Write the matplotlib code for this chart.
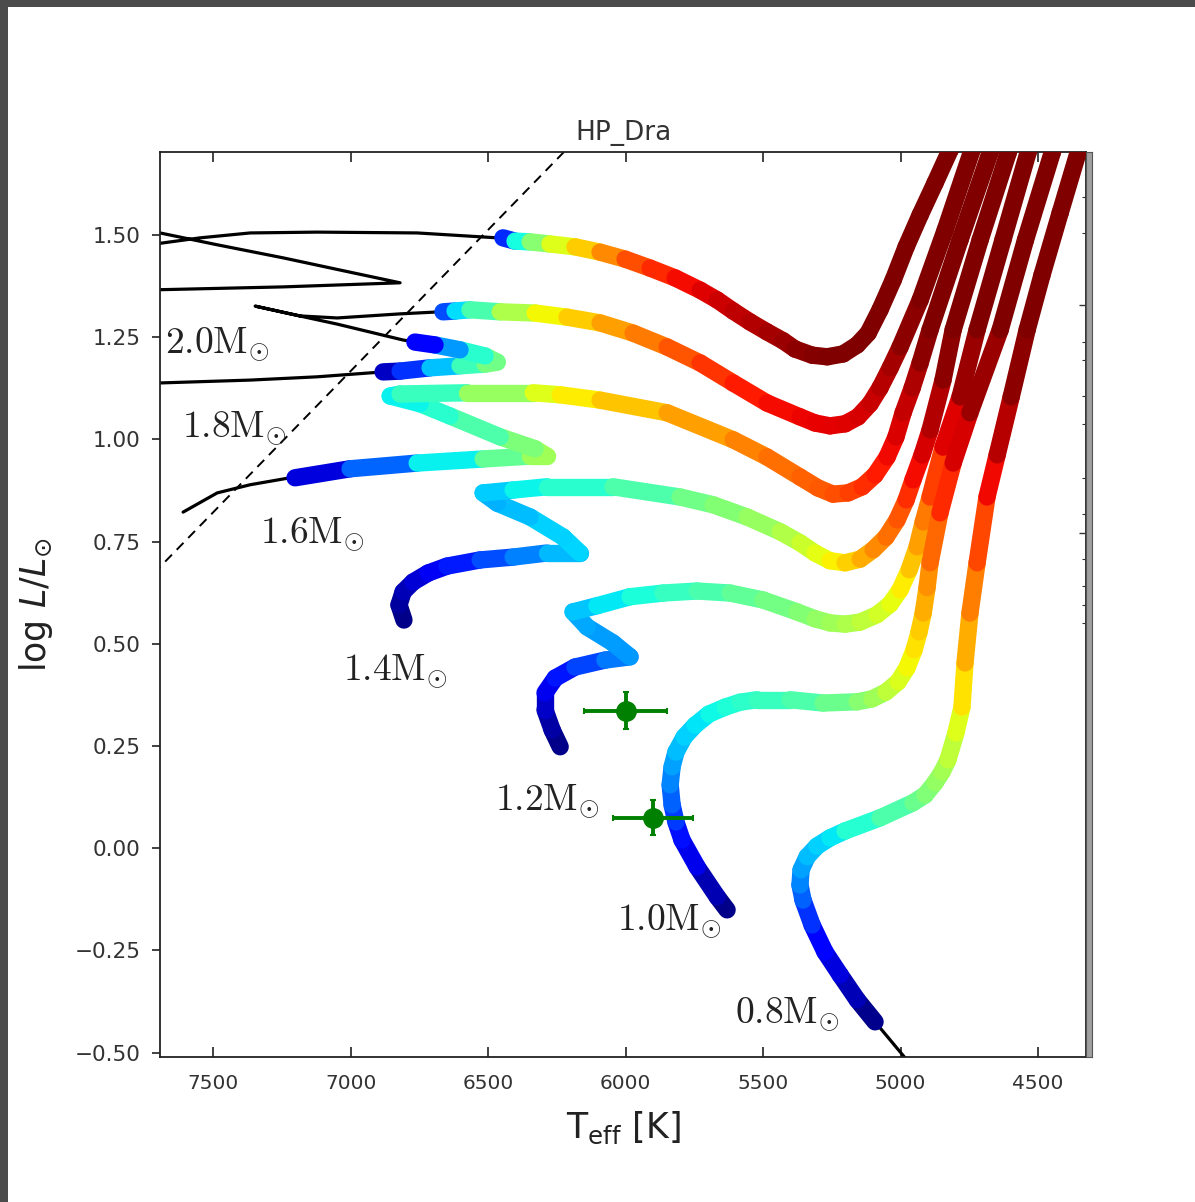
import numpy as np
import matplotlib
matplotlib.use('Agg')
import matplotlib.pyplot as plt
from matplotlib.collections import LineCollection
from matplotlib.patches import Rectangle

# --- data: (Teff [K], log L/Lsun, colour value 0..1) ---

# 2.0 Msun
m20_pre_teff = [7765, 7245, 6820, 7002, 7245, 7485, 7693, 7765, 7765, 7547, 7365, 7122, 6758, 6467, 6446]
m20_pre_logl = [1.365, 1.373, 1.383, 1.409, 1.444, 1.476, 1.505, 1.515, 1.473, 1.493, 1.505, 1.507, 1.505, 1.493, 1.493]
m20_teff = [6446, 6402, 6347, 6275, 6184, 6093, 6002, 5911, 5820, 5729, 5667, 5609, 5547, 5486,
            5427, 5384, 5322, 5267, 5209, 5158, 5118, 5075, 5027, 4980, 4929, 4875, 4820, 4784]
m20_logl = [1.493, 1.485, 1.483, 1.478, 1.471, 1.458, 1.441, 1.419, 1.395, 1.365, 1.341, 1.314, 1.287, 1.263,
            1.241, 1.221, 1.206, 1.202, 1.209, 1.231, 1.260, 1.317, 1.390, 1.471, 1.549, 1.627, 1.708, 1.769]
m20_c = [0.03, 0.3, 0.45, 0.58, 0.66, 0.73, 0.8, 0.85, 0.88, 0.91, 0.92, 0.94, 0.95, 0.96,
         0.97, 0.98, 0.99, 1.0, 1.0, 1.0, 1.0, 1.0, 1.0, 1.0, 1.0, 1.0, 1.0, 1.0]

# 1.8 Msun
m18_pre_teff = [7765, 7693, 7365, 7122, 6882]
m18_pre_logl = [1.136, 1.138, 1.145, 1.153, 1.165]
m18_hook_teff = [6882, 6820, 6711, 6602, 6511, 6467, 6511, 6602, 6693, 6766]
m18_hook_logl = [1.165, 1.167, 1.175, 1.180, 1.184, 1.189, 1.204, 1.219, 1.231, 1.238]
m18_hook_c = [0.02, 0.1, 0.25, 0.38, 0.47, 0.52, 0.45, 0.35, 0.2, 0.05]
m18_mid_teff = [6766, 6809, 7049, 7220, 7347, 7184, 7049, 6820, 6675]
m18_mid_logl = [1.238, 1.243, 1.282, 1.307, 1.326, 1.302, 1.297, 1.307, 1.312]
m18_teff = [6664, 6620, 6566, 6456, 6329, 6213, 6093, 5973, 5849, 5729, 5609, 5486, 5366,
            5311, 5257, 5202, 5155, 5111, 5075, 5038, 5002, 4929, 4838, 4740, 4711]
m18_logl = [1.312, 1.314, 1.317, 1.312, 1.309, 1.299, 1.285, 1.260, 1.226, 1.187, 1.138, 1.089, 1.055,
            1.040, 1.033, 1.038, 1.055, 1.087, 1.126, 1.175, 1.226, 1.341, 1.512, 1.708, 1.762]
m18_c = [0.1, 0.3, 0.38, 0.5, 0.62, 0.67, 0.72, 0.76, 0.8, 0.84, 0.87, 0.89, 0.9,
         0.905, 0.91, 0.915, 0.92, 0.93, 0.94, 0.96, 0.97, 1.0, 1.0, 1.0, 1.0]

# 1.6 Msun
m16_pre_teff = [7609, 7485, 7365, 7220, 7202]
m16_pre_logl = [0.822, 0.869, 0.889, 0.906, 0.906]
m16_teff = [7202, 7002, 6758, 6518, 6347, 6286, 6329, 6456, 6638, 6747, 6856, 6820, 6576, 6336, 6238,
            6093, 5849, 5609, 5486, 5366, 5300, 5246, 5191, 5140, 5093, 5049, 5017, 4991, 4958, 4929,
            4893, 4784, 4675, 4646]
m16_logl = [0.906, 0.928, 0.942, 0.952, 0.959, 0.959, 0.977, 1.006, 1.057, 1.087, 1.106, 1.111, 1.114, 1.114, 1.109,
            1.096, 1.065, 0.999, 0.957, 0.908, 0.881, 0.866, 0.869, 0.884, 0.913, 0.957, 1.006, 1.065, 1.126, 1.187,
            1.268, 1.488, 1.701, 1.762]
m16_c = [0.02, 0.15, 0.3, 0.42, 0.52, 0.56, 0.53, 0.47, 0.42, 0.38, 0.35, 0.37, 0.47, 0.6, 0.64,
         0.68, 0.72, 0.76, 0.78, 0.8, 0.81, 0.82, 0.83, 0.85, 0.87, 0.89, 0.91, 0.93, 0.95, 0.97,
         1.0, 1.0, 1.0, 1.0]

# 1.4 Msun
m14_teff = [6806, 6824, 6809, 6773, 6718, 6649, 6529, 6409, 6286, 6166, 6227, 6347, 6467, 6518, 6409,
            6286, 6046, 5802, 5682, 5558, 5438, 5366, 5311, 5257, 5202, 5147, 5100, 5053, 5013, 4980,
            4955, 4922, 4893, 4846, 4809, 4711, 4609, 4580]
m14_logl = [0.558, 0.595, 0.627, 0.651, 0.673, 0.690, 0.705, 0.712, 0.722, 0.722, 0.761, 0.810, 0.844, 0.869, 0.876,
            0.884, 0.884, 0.859, 0.840, 0.810, 0.774, 0.747, 0.722, 0.703, 0.698, 0.707, 0.730, 0.761, 0.803, 0.852,
            0.901, 0.962, 1.023, 1.145, 1.268, 1.488, 1.701, 1.762]
m14_c = [0.0, 0.02, 0.04, 0.06, 0.09, 0.12, 0.18, 0.22, 0.28, 0.33, 0.34, 0.32, 0.3, 0.3, 0.35,
         0.38, 0.42, 0.47, 0.5, 0.52, 0.55, 0.58, 0.61, 0.64, 0.67, 0.71, 0.75, 0.78, 0.8, 0.84,
         0.88, 0.91, 0.94, 0.97, 1.0, 1.0, 1.0, 1.0]

# 1.2 Msun
m12_teff = [6238, 6267, 6293, 6293, 6256, 6184, 6075, 5984, 6046, 6140, 6191, 6104, 5984, 5864, 5740,
            5620, 5500, 5377, 5311, 5257, 5202, 5147, 5086, 5038, 5002, 4969, 4940, 4918, 4893, 4846,
            4784, 4722, 4628, 4537, 4507]
m12_logl = [0.248, 0.289, 0.338, 0.380, 0.416, 0.443, 0.460, 0.468, 0.502, 0.541, 0.578, 0.593, 0.615, 0.624, 0.629,
            0.624, 0.607, 0.578, 0.561, 0.551, 0.548, 0.553, 0.571, 0.597, 0.632, 0.681, 0.737, 0.798, 0.859, 0.981,
            1.104, 1.268, 1.488, 1.701, 1.762]
m12_c = [0.0, 0.02, 0.05, 0.08, 0.12, 0.17, 0.22, 0.27, 0.28, 0.28, 0.3, 0.34, 0.37, 0.4, 0.43,
         0.45, 0.48, 0.5, 0.52, 0.54, 0.55, 0.57, 0.59, 0.62, 0.64, 0.68, 0.72, 0.76, 0.8, 0.88,
         0.95, 1.0, 1.0, 1.0, 1.0]

# 1.0 Msun
m10_teff = [5631, 5667, 5740, 5795, 5817, 5831, 5838, 5831, 5817, 5787, 5747, 5697, 5638, 5584, 5522,
            5402, 5282, 5158, 5104, 5053, 5009, 4977, 4951, 4933, 4918, 4904, 4893, 4857, 4809, 4748,
            4638, 4546, 4449, 4420]
m10_logl = [-0.151, -0.119, -0.046, 0.020, 0.064, 0.106, 0.155, 0.199, 0.235, 0.272, 0.301, 0.328, 0.345, 0.357, 0.363,
            0.363, 0.355, 0.358, 0.365, 0.382, 0.407, 0.441, 0.485, 0.529, 0.575, 0.637, 0.698, 0.820, 0.942, 1.065,
            1.268, 1.488, 1.701, 1.762]
m10_c = [0.0, 0.02, 0.07, 0.12, 0.16, 0.2, 0.24, 0.27, 0.3, 0.32, 0.34, 0.36, 0.38, 0.4, 0.41,
         0.43, 0.46, 0.5, 0.53, 0.56, 0.6, 0.63, 0.66, 0.68, 0.71, 0.74, 0.77, 0.83, 0.9, 0.95,
         1.0, 1.0, 1.0, 1.0]

# 0.8 Msun
m08_pre_teff = [4948, 5093]
m08_pre_logl = [-0.542, -0.425]
m08_teff = [5093, 5158, 5220, 5275, 5322, 5355, 5366, 5362, 5340, 5304, 5257, 5202, 5075, 4955, 4911,
            4875, 4849, 4828, 4799, 4777, 4766, 4748, 4722, 4686, 4649, 4598, 4540, 4486, 4420, 4355, 4326]
m08_logl = [-0.425, -0.371, -0.310, -0.254, -0.188, -0.127, -0.090, -0.053, -0.021, 0.005, 0.025, 0.042, 0.074,
            0.111, 0.130, 0.160, 0.187, 0.216, 0.282, 0.345, 0.453, 0.575, 0.698, 0.859, 0.962, 1.104, 1.268,
            1.402, 1.554, 1.701, 1.762]
m08_c = [0.0, 0.03, 0.07, 0.1, 0.15, 0.2, 0.24, 0.27, 0.3, 0.32, 0.34, 0.37, 0.42, 0.47, 0.49,
         0.52, 0.54, 0.56, 0.6, 0.64, 0.7, 0.75, 0.8, 0.87, 0.93, 0.97, 1.0, 1.0, 1.0, 1.0, 1.0]

# instability strip edge (dashed)
edge_teff = [7800, 6000]
edge_logl = [0.614, 1.858]

# HP Dra components
obs_teff = [6000, 5900]
obs_logl = [0.336, 0.074]
obs_teff_err = [150, 145]
obs_logl_err = [0.045, 0.043]

# mass labels
mass_labels = ['2.0', '1.8', '1.6', '1.4', '1.2', '1.0', '0.8']
label_teff = [7675, 7613, 7329, 7027, 6475, 6031, 5602]
label_logl = [1.211, 1.006, 0.747, 0.412, 0.094, -0.200, -0.427]

cmap = plt.get_cmap('jet')


def draw_colored(ax, teff, logl, c):
    pts = np.column_stack([teff, logl])
    segs = np.stack([pts[:-1], pts[1:]], axis=1)
    c = np.asarray(c)
    cols = cmap(0.5 * (c[:-1] + c[1:]))
    lc = LineCollection(segs, colors=cols, linewidths=12.5,
                        capstyle='round', joinstyle='round', zorder=3)
    ax.add_collection(lc)


def draw_black(ax, teff, logl):
    ax.plot(teff, logl, color='black', lw=2.3, zorder=2, solid_capstyle='round')


def main():
    W, H = 1195, 1202
    fig = plt.figure(figsize=(W / 100, H / 100), dpi=100)

    # dark screenshot frame at top and left
    fig.patches.append(Rectangle((0, 1 - 7 / H), 1, 7 / H, transform=fig.transFigure,
                                 facecolor='#4b4b4b', edgecolor='none', zorder=-5))
    fig.patches.append(Rectangle((0, 0), 8 / W, 1, transform=fig.transFigure,
                                 facecolor='#4b4b4b', edgecolor='none', zorder=-5))

    left, right, top, bottom = 160, 1086, 152, 1057
    ax = fig.add_axes([left / W, 1 - bottom / H, (right - left) / W, (bottom - top) / H])

    ax.plot(edge_teff, edge_logl, color='black', lw=1.4, ls=(0, (5, 3.5)), zorder=2.5)

    draw_black(ax, m20_pre_teff, m20_pre_logl)
    draw_black(ax, m18_pre_teff, m18_pre_logl)
    draw_black(ax, m18_mid_teff, m18_mid_logl)
    draw_black(ax, m16_pre_teff, m16_pre_logl)
    draw_black(ax, m08_pre_teff, m08_pre_logl)

    draw_colored(ax, m20_teff, m20_logl, m20_c)
    draw_colored(ax, m18_hook_teff, m18_hook_logl, m18_hook_c)
    draw_colored(ax, m18_teff, m18_logl, m18_c)
    draw_colored(ax, m16_teff, m16_logl, m16_c)
    draw_colored(ax, m14_teff, m14_logl, m14_c)
    draw_colored(ax, m12_teff, m12_logl, m12_c)
    draw_colored(ax, m10_teff, m10_logl, m10_c)
    draw_colored(ax, m08_teff, m08_logl, m08_c)

    ax.errorbar(obs_teff, obs_logl, xerr=obs_teff_err, yerr=obs_logl_err,
                fmt='o', color='green', ms=14, elinewidth=2.8, capsize=2, capthick=1.5, zorder=5)

    for lab, t, l in zip(mass_labels, label_teff, label_logl):
        ax.text(t, l, r'$%s\mathrm{M}_{\odot}$' % lab, fontsize=27, math_fontfamily='cm',
                ha='left', va='baseline', color='#222222', zorder=6)

    ax.set_xlim(7693, 4326)
    ax.set_ylim(-0.511, 1.703)
    ax.set_xticks([7500, 7000, 6500, 6000, 5500, 5000, 4500])
    ax.set_yticks([-0.5, -0.25, 0.0, 0.25, 0.5, 0.75, 1.0, 1.25, 1.5])
    ax.set_yticklabels(['−0.50', '−0.25', '0.00', '0.25', '0.50', '0.75', '1.00', '1.25', '1.50'])
    ax.tick_params(axis='x', direction='in', top=True, length=7, width=1.3, labelsize=14.5,
                   pad=12, colors='#333333')
    ax.tick_params(axis='y', direction='out', length=6, width=1.3, labelsize=15.5, pad=8,
                   colors='#333333')
    for sp in ax.spines.values():
        sp.set_linewidth(1.3)
        sp.set_color('#222222')

    ax.set_title('HP_Dra', fontsize=19, pad=9, color='#333333')
    ax.set_xlabel(r'T$_{\rm eff}$ [K]', fontsize=25, labelpad=12, color='#222222')
    ax.set_ylabel(r'$\log\,L/L_{\odot}$', fontsize=25, labelpad=14, color='#222222')

    # squeezed colour bar strip on the right
    cax = fig.add_axes([right / W, 1 - bottom / H, 6 / W, (bottom - top) / H])
    cax.set_facecolor('#a0a0a0')
    cax.set_xticks([])
    cax.set_ylim(0, 1)
    cax.set_yticks([0.579, 0.831])
    cax.set_yticks([0.480, 0.50, 0.52, 0.55, 0.60, 0.64, 0.70, 0.73, 0.77, 0.79, 0.91, 0.95], minor=True)
    cax.tick_params(axis='y', which='major', direction='out', length=5, width=1.0, labelleft=False,
                    left=True, right=False, labelright=False, colors='#333333')
    cax.tick_params(axis='y', which='minor', direction='out', length=3, width=0.8, left=True, right=False,
                    colors='#333333')
    for sp in cax.spines.values():
        sp.set_color('#555555')

    fig.savefig('out.png', dpi=100)


if __name__ == '__main__':
    main()
